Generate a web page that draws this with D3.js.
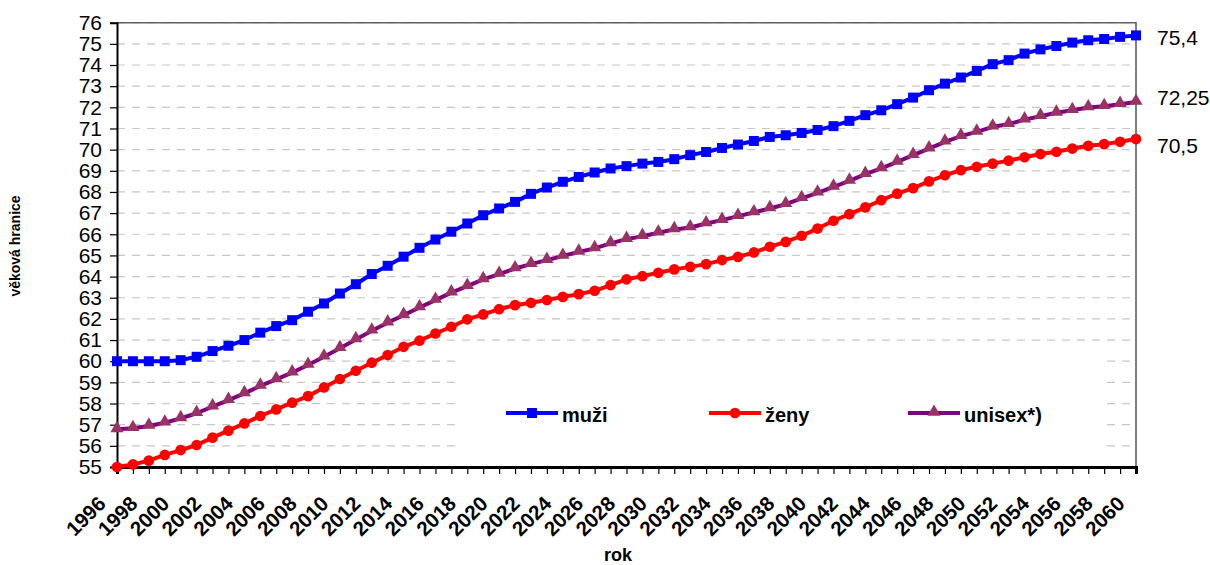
<!DOCTYPE html>
<html>
<head>
<meta charset="utf-8">
<script src="https://cdn.jsdelivr.net/npm/d3@7"></script>
<style>
  html, body { margin: 0; padding: 0; background: #fff; }
  svg { display: block; font-family: "Liberation Sans", Arial, sans-serif; }
</style>
</head>
<body>
<svg id="chart" width="1210" height="565"></svg>
<script>
// ---- data ----
const years = d3.range(1996, 2061);
const yTicks = d3.range(55, 77);
const xLabelYears = d3.range(1996, 2061, 2);
const seriesNames = ["muži", "ženy", "unisex*)"];
const endLabels = ["75,4", "70,5", "72,25"];

const muzi = [60.0, 60.0, 60.0, 60.0, 60.05, 60.21, 60.48, 60.73, 61.0, 61.35,
  61.66, 61.94, 62.34, 62.73, 63.2, 63.64, 64.12, 64.51, 64.94, 65.36,
  65.75, 66.12, 66.51, 66.9, 67.22, 67.53, 67.91, 68.21, 68.48, 68.71,
  68.92, 69.11, 69.22, 69.34, 69.42, 69.55, 69.74, 69.89, 70.08, 70.24,
  70.41, 70.6, 70.68, 70.79, 70.93, 71.11, 71.36, 71.63, 71.86, 72.15,
  72.46, 72.81, 73.12, 73.41, 73.72, 74.04, 74.23, 74.54, 74.74, 74.9,
  75.06, 75.17, 75.23, 75.33, 75.4];
const zeny = [55.0, 55.12, 55.3, 55.57, 55.8, 56.04, 56.39, 56.72, 57.06, 57.41,
  57.72, 58.04, 58.35, 58.76, 59.16, 59.55, 59.93, 60.29, 60.68, 60.97,
  61.31, 61.63, 61.98, 62.21, 62.46, 62.65, 62.76, 62.89, 63.04, 63.17,
  63.33, 63.6, 63.87, 64.02, 64.18, 64.34, 64.46, 64.59, 64.78, 64.93,
  65.14, 65.41, 65.64, 65.93, 66.27, 66.64, 66.95, 67.27, 67.61, 67.92,
  68.18, 68.5, 68.79, 69.03, 69.19, 69.34, 69.48, 69.64, 69.79, 69.9,
  70.05, 70.18, 70.26, 70.37, 70.5];
const unisex = [56.78, 56.83, 56.94, 57.09, 57.3, 57.54, 57.85, 58.16, 58.48, 58.83,
  59.14, 59.46, 59.82, 60.21, 60.61, 61.03, 61.44, 61.82, 62.18, 62.54,
  62.89, 63.24, 63.55, 63.87, 64.12, 64.38, 64.59, 64.78, 64.97, 65.17,
  65.33, 65.57, 65.77, 65.91, 66.07, 66.23, 66.32, 66.51, 66.67, 66.86,
  67.03, 67.22, 67.42, 67.7, 67.96, 68.24, 68.52, 68.84, 69.11, 69.42,
  69.74, 70.05, 70.37, 70.64, 70.84, 71.08, 71.2, 71.42, 71.58, 71.74,
  71.86, 71.99, 72.05, 72.15, 72.25];

// ---- layout ----
const svg = d3.select("#chart");
const L = 117, R = 1136, T = 22.7, B = 467;
const x = d3.scaleLinear().domain([1996, 2060]).range([L, R]);
const y = d3.scaleLinear().domain([55, 76]).range([B, T]);
const FONT = '"Liberation Sans", Arial, sans-serif';

// gridlines
svg.append("g").selectAll("line").data(yTicks.filter(v => v > 55)).join("line")
  .attr("x1", L).attr("x2", R)
  .attr("y1", d => y(d)).attr("y2", d => y(d))
  .attr("stroke", "#c8c8c8").attr("stroke-width", 1.2)
  .attr("stroke-dasharray", "8,7");

// plot border (top and right)
svg.append("path")
  .attr("d", `M${L},${y(76)}H${R}V${B}`)
  .attr("fill", "none").attr("stroke", "#606060").attr("stroke-width", 1.6);

// legend background box hides gridlines
svg.append("rect").attr("x", 455).attr("y", 351).attr("width", 645).attr("height", B - 351)
  .attr("fill", "#fff");

// y axis
const yAxis = svg.append("g").attr("transform", `translate(${L},0)`)
  .call(d3.axisLeft(y).tickValues(yTicks).tickSize(7).tickPadding(8).tickFormat(d3.format("d")));
yAxis.select(".domain").attr("stroke", "#000").attr("stroke-width", 2);
yAxis.selectAll(".tick line").attr("stroke", "#000").attr("stroke-width", 1.2);
yAxis.selectAll("text").attr("font-family", FONT).attr("font-size", 21).attr("fill", "#000");

// x axis
const xAxis = svg.append("g").attr("transform", `translate(0,${B})`)
  .call(d3.axisBottom(x).tickValues(years).tickSize(7).tickFormat(""));
xAxis.select(".domain").attr("stroke", "#000").attr("stroke-width", 3);
xAxis.selectAll(".tick line").attr("stroke", "#000").attr("stroke-width", 1.2);

svg.append("g").selectAll("text").data(xLabelYears).join("text")
  .attr("transform", d => `translate(${x(d) - 10},${B + 38}) rotate(-45)`)
  .attr("text-anchor", "end")
  .attr("font-family", FONT).attr("font-weight", "bold").attr("font-size", 20.5)
  .text(d => d);

// axis titles
svg.append("text").attr("x", 618).attr("y", 561).attr("text-anchor", "middle")
  .attr("font-family", FONT).attr("font-weight", "bold").attr("font-size", 18).text("rok");
svg.append("text").attr("transform", "translate(20,246) rotate(-90)").attr("text-anchor", "middle")
  .attr("font-family", FONT).attr("font-weight", "bold").attr("font-size", 14).text("věková hranice");

// series
const lineGen = d3.line().x((d, i) => x(years[i])).y(d => y(d));
const styles = [
  { data: muzi, color: "#0000ff", mfill: "#0000ff", marker: "square" },
  { data: zeny, color: "#ff0000", mfill: "#ff0000", marker: "circle" },
  { data: unisex, color: "#800080", mfill: "#993366", marker: "triangle" }
];
const sym = {
  square: d3.symbol().type(d3.symbolSquare).size(100),
  circle: d3.symbol().type(d3.symbolCircle).size(90),
  triangle: d3.symbol().type(d3.symbolTriangle).size(75)
};

// draw in order: unisex, zeny, muzi (muzi on top)
[2, 1, 0].forEach(k => {
  const s = styles[k];
  const g = svg.append("g");
  g.append("path").datum(s.data).attr("d", lineGen)
    .attr("fill", "none").attr("stroke", s.color).attr("stroke-width", 4)
    .attr("stroke-linejoin", "round");
  g.selectAll("path.m").data(s.data).join("path").attr("class", "m")
    .attr("transform", (d, i) => `translate(${x(years[i])},${y(d) + (s.marker === "triangle" ? -1 : 0)})`)
    .attr("d", sym[s.marker]())
    .attr("fill", s.mfill);
});

// end labels
const lblOffsets = [2, 7, -4];
styles.forEach((s, k) => {
  svg.append("text").attr("x", 1157).attr("y", y(s.data[s.data.length - 1]) + lblOffsets[k])
    .attr("dy", "0.35em")
    .attr("font-family", FONT).attr("font-size", 21).text(endLabels[k]);
});

// legend
const legX = [506, 709, 908];
const legY = 413;
styles.forEach((s, k) => {
  const g = svg.append("g");
  g.append("line").attr("x1", legX[k]).attr("x2", legX[k] + 52)
    .attr("y1", legY).attr("y2", legY).attr("stroke", s.color).attr("stroke-width", 4);
  g.append("path").attr("transform", `translate(${legX[k] + 26},${legY + (s.marker === "triangle" ? -1 : 0)})`)
    .attr("d", sym[s.marker]()).attr("fill", s.mfill);
  g.append("text").attr("x", legX[k] + 56).attr("y", legY + 9)
    .attr("font-family", FONT).attr("font-weight", "bold").attr("font-size", 20)
    .text(seriesNames[k]);
});
</script>
</body>
</html>
